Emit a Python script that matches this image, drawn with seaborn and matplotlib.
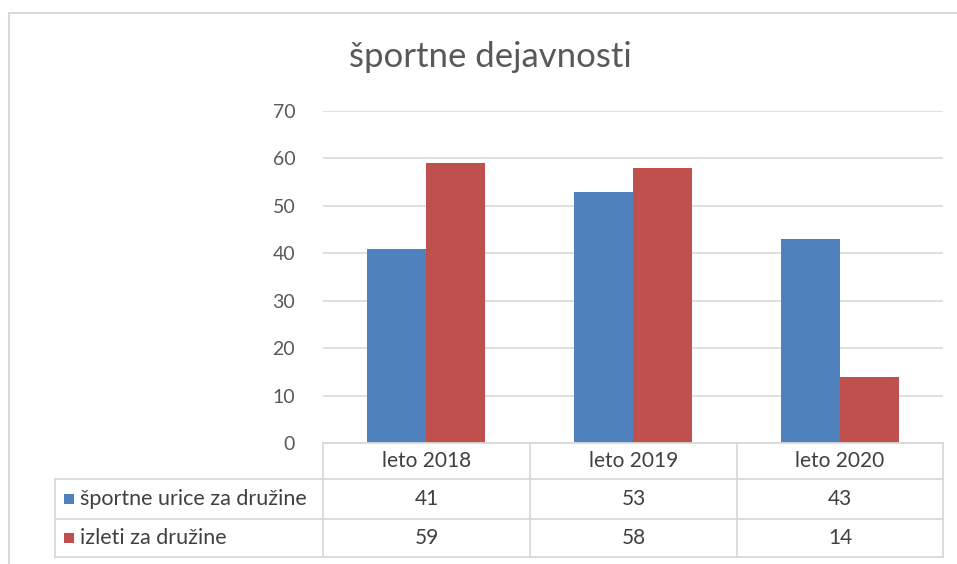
import matplotlib
matplotlib.use("Agg")
import matplotlib.pyplot as plt
import seaborn as sns
import pandas as pd
from matplotlib.lines import Line2D
from matplotlib.patches import Rectangle

categories = ["leto 2018", "leto 2019", "leto 2020"]
series_names = ["športne urice za družine", "izleti za družine"]
sportne = [41, 53, 43]
izleti = [59, 58, 14]
title = "športne dejavnosti"
yticks = [0, 10, 20, 30, 40, 50, 60, 70]

colors = ["#4F81BD", "#C0504D"]

sns.set_theme(style="white")
plt.rcParams["font.family"] = ["Lato", "DejaVu Sans"]

df = pd.DataFrame({
    "cat": categories * 2,
    "series": [series_names[0]] * 3 + [series_names[1]] * 3,
    "val": sportne + izleti,
})

W, H = 957, 564
fig = plt.figure(figsize=(W / 100, H / 100), dpi=100)

def fx(px):
    return px / W

def fy(py):
    return 1 - py / H

ax_l, ax_r, ax_t, ax_b = 323, 943, 111, 443
ax = fig.add_axes([fx(ax_l), fy(ax_b), fx(ax_r - ax_l), (ax_b - ax_t) / H])

sns.barplot(data=df, x="cat", y="val", hue="series", palette=colors,
            width=0.57, ax=ax, legend=False, saturation=1, edgecolor="none")
ax.set_xlim(-0.5, 2.5)
ax.set_ylim(0, 70)
ax.set_yticks(yticks)
ax.set_yticklabels([str(t) for t in yticks], fontsize=14, color="#595959")
ax.tick_params(axis="y", length=0, pad=20)
ax.set_xticks([])
ax.set_xlabel("")
ax.set_ylabel("")
for s in ax.spines.values():
    s.set_visible(False)
ax.yaxis.grid(True, color="#D9D9D9", linewidth=1.2)
ax.set_axisbelow(True)

# Chart outer border
fig.patches.append(Rectangle((fx(9), fy(600)), fx(960 - 9), (600 - 13) / H,
                             transform=fig.transFigure, fill=False,
                             edgecolor="#D9D9D9", linewidth=1.5))

fig.text(fx(490), fy(57), title, ha="center", va="center",
         fontsize=25, color="#595959")

# Data table
line_c = "#D9D9D9"
col_x = [323, 530, 737, 943]
row_y = [443, 479, 519, 557]
tbl_left = 55

def hline(x0, x1, y):
    fig.add_artist(Line2D([fx(x0), fx(x1)], [fy(y), fy(y)], color=line_c,
                          linewidth=1.3, transform=fig.transFigure))

def vline(x, y0, y1):
    fig.add_artist(Line2D([fx(x), fx(x)], [fy(y0), fy(y1)], color=line_c,
                          linewidth=1.3, transform=fig.transFigure))

hline(col_x[0], col_x[-1], row_y[0])
hline(tbl_left, col_x[-1], row_y[1])
hline(tbl_left, col_x[-1], row_y[2])
hline(tbl_left, col_x[-1], row_y[3])
for x in col_x:
    vline(x, row_y[0], row_y[3])
vline(tbl_left, row_y[1], row_y[3])

txt_c = "#404040"
for i, c in enumerate(categories):
    cx = (col_x[i] + col_x[i + 1]) / 2
    fig.text(fx(cx), fy((row_y[0] + row_y[1]) / 2), c, ha="center",
             va="center", fontsize=15, color=txt_c)

for r, (name, vals) in enumerate(zip(series_names, [sportne, izleti])):
    cy = (row_y[r + 1] + row_y[r + 2]) / 2
    fig.patches.append(Rectangle((fx(64), fy(cy + 5)), fx(10), 10 / H,
                                 transform=fig.transFigure,
                                 facecolor=colors[r], edgecolor="none"))
    fig.text(fx(80), fy(cy), name, ha="left", va="center", fontsize=15.5,
             color=txt_c)
    for i, v in enumerate(vals):
        cx = (col_x[i] + col_x[i + 1]) / 2
        fig.text(fx(cx), fy(cy), str(v), ha="center", va="center",
                 fontsize=15, color=txt_c)

fig.savefig("out.png", dpi=100)
